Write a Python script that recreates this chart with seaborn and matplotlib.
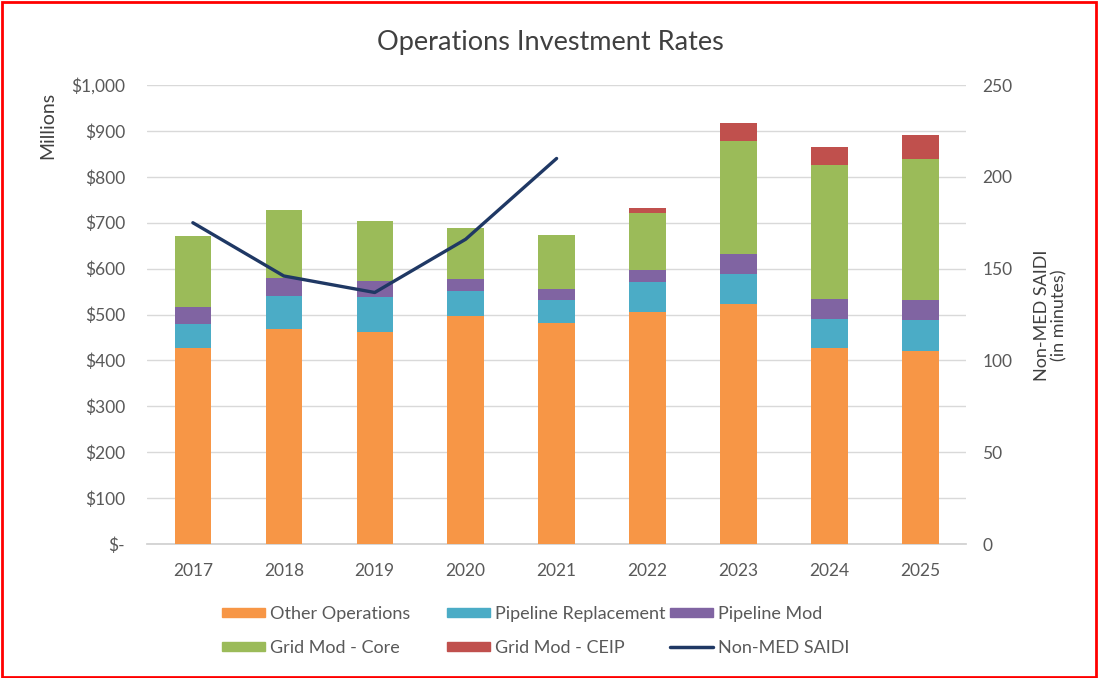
import numpy as np
import pandas as pd
import matplotlib
matplotlib.use("Agg")
import matplotlib.pyplot as plt
from matplotlib.patches import Patch, Rectangle
from matplotlib.lines import Line2D
import matplotlib.ticker as mticker
import seaborn as sns

years = ['2017', '2018', '2019', '2020', '2021', '2022', '2023', '2024', '2025']
other_ops = [428, 468, 463, 497, 482, 506, 523, 426, 421]
pipe_repl = [51, 72, 76, 54, 49, 65, 65, 64, 67]
pipe_mod = [37, 39, 35, 26, 25, 27, 44, 44, 44]
grid_core = [155, 149, 130, 111, 118, 124, 246, 292, 306]
grid_ceip = [0, 0, 0, 0, 0, 10, 39, 40, 53]
saidi_years = ['2017', '2018', '2019', '2020', '2021']
saidi = [175, 146, 137, 166, 210]

series_names = ['Other Operations', 'Pipeline Replacement', 'Pipeline Mod',
                'Grid Mod - Core', 'Grid Mod - CEIP']
series_colors = ['#F79646', '#4BACC6', '#8064A2', '#9BBB59', '#C0504D']
line_color = '#1F3864'

sns.set_theme(style="white")
plt.rcParams['font.family'] = ['Lato', 'DejaVu Sans']

fig = plt.figure(figsize=(11, 6.78), dpi=100)
ax = fig.add_axes([0.134, 0.1976, 0.744, 0.677])

# stacked bars, drawn from the tallest cumulative total down
df = pd.DataFrame({'year': years})
stack = np.cumsum(np.array([other_ops, pipe_repl, pipe_mod, grid_core, grid_ceip]), axis=0)
for i in range(len(series_names) - 1, -1, -1):
    df['val'] = stack[i]
    sns.barplot(data=df, x='year', y='val', color=series_colors[i], width=0.4,
                saturation=1, linewidth=0, ax=ax, zorder=3)

ax.set_ylim(0, 1000)
ax.set_xlim(-0.5, 8.5)
ax.yaxis.set_major_locator(mticker.MultipleLocator(100))
ax.yaxis.set_major_formatter(mticker.FuncFormatter(
    lambda v, p: '$-' if v == 0 else '${:,.0f}'.format(v)))
ax.grid(axis='y', color='#d9d9d9', linewidth=1, zorder=0)
ax.set_axisbelow(True)
for s in ['top', 'right', 'left']:
    ax.spines[s].set_visible(False)
ax.spines['bottom'].set_color('#d0d0d0')
ax.tick_params(axis='both', colors='#595959', labelsize=12.5, length=0)
ax.tick_params(axis='x', pad=14)
ax.tick_params(axis='y', pad=16)
ax.set_xlabel('')
ax.set_ylabel('')

# SAIDI line on right axis
ax2 = ax.twinx()
sns.lineplot(x=np.arange(len(saidi_years)), y=saidi, color=line_color,
             linewidth=2.4, ax=ax2)
ax2.set_ylim(0, 250)
ax2.yaxis.set_major_locator(mticker.MultipleLocator(50))
for s in ax2.spines.values():
    s.set_visible(False)
ax2.tick_params(axis='y', colors='#595959', labelsize=12.5, length=0, pad=12)
ax2.grid(False)

fig.text(0.5, 0.937, 'Operations Investment Rates', ha='center', va='center',
         fontsize=19.5, color='#404040')
fig.text(0.043, 0.815, 'Millions', rotation=90, ha='center', va='center',
         fontsize=14, color='#404040')
fig.text(0.955, 0.535, 'Non-MED SAIDI\n(in minutes)', rotation=90, ha='center',
         va='center', fontsize=13, color='#404040', linespacing=1.1)

# legend: three columns placed at fixed positions, like the original
columns = [
    [Patch(color=series_colors[0], label=series_names[0]),
     Patch(color=series_colors[3], label=series_names[3])],
    [Patch(color=series_colors[1], label=series_names[1]),
     Patch(color=series_colors[4], label=series_names[4])],
    [Patch(color=series_colors[2], label=series_names[2]),
     Line2D([0], [0], color=line_color, linewidth=2.5, label='Non-MED SAIDI')],
]
col_x = [222, 447, 670]
for hs, x in zip(columns, col_x):
    leg = fig.legend(handles=hs, loc='center left', bbox_to_anchor=(x / 1100, 1 - 631 / 678),
                     frameon=False, fontsize=13, handlelength=2.4, handleheight=0.45,
                     handletextpad=0.25, labelspacing=1.0, borderpad=0, borderaxespad=0)
    for t in leg.get_texts():
        t.set_color('#595959')

fig.patches.append(Rectangle((0.002, 0.002), 0.994, 0.995, transform=fig.transFigure,
                             fill=False, edgecolor='red', linewidth=2))

fig.savefig('out.png', dpi=100)
